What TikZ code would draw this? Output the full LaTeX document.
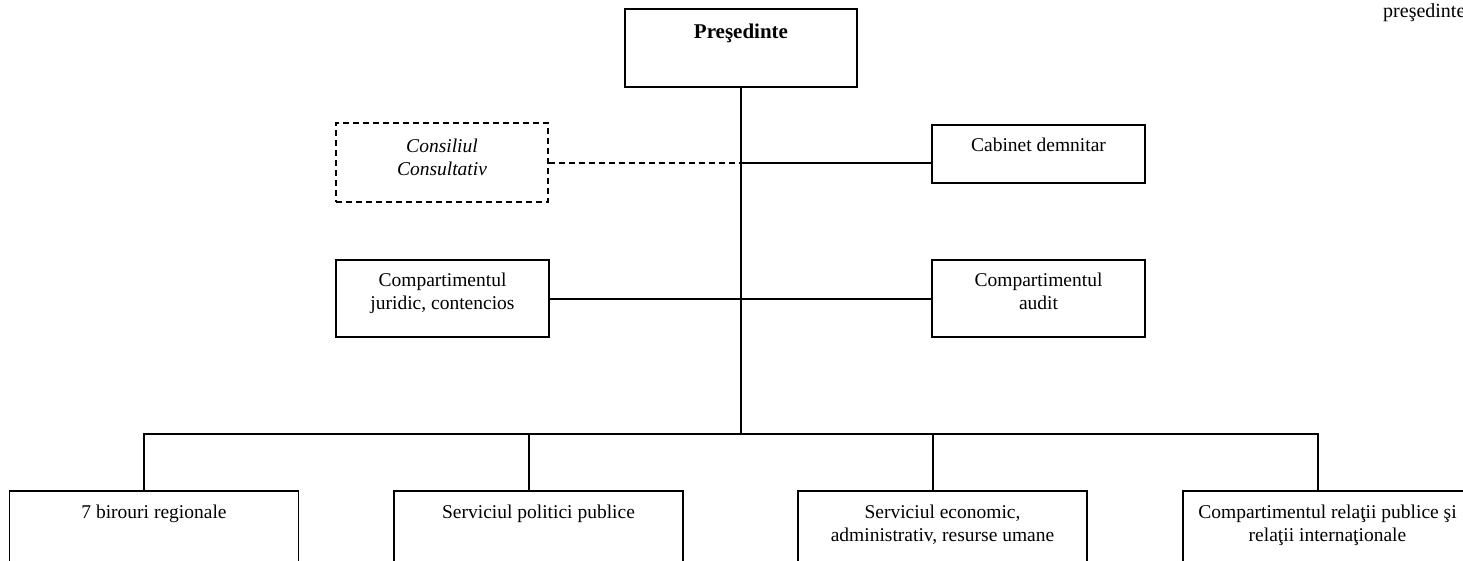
\documentclass[tikz,border=0pt]{standalone}
\usepackage{fontspec}
\setmainfont{Liberation Serif}
\usetikzlibrary{positioning}

\tikzset{
  unit/.style={draw, line width=1.8pt, minimum width=213pt, minimum height=77pt, inner sep=0pt},
  lbl/.style={inner sep=0pt, align=center, font=\fontsize{19.5}{23}\selectfont},
  link/.style={line width=2pt}
}

\begin{document}
\begin{tikzpicture}[x=1pt, y=-1pt]
\clip (0,0) rectangle (1463,560);
% Draw president box
\node[unit, minimum width=232pt, minimum height=78pt] (pres) at (741,48) {};
\node[lbl, below=16pt of pres.north, font=\fontsize{21}{25}\selectfont\bfseries] (pres-t) {Preşedinte};
% Draw note at top right (cut by the page edge)
\node[lbl, anchor=base west, font=\fontsize{20}{24}\selectfont] (note) at (1383,17) {preşedinte};
% Draw advisory council (dashed)
\node[unit, dash pattern=on 6pt off 4pt, minimum width=212pt, minimum height=79pt] (cons) at (442,162.5) {};
\node[lbl, below=17pt of cons.north, font=\fontsize{19.5}{23}\selectfont\itshape] (cons-t) {Consiliul\\Consultativ};
% Draw cabinet box
\node[unit, minimum height=58pt] (cab) at (1038.5,154) {};
\node[lbl, below=14pt of cab.north] (cab-t) {Cabinet demnitar};
% Draw legal and audit boxes
\node[unit] (jur) at (442.5,298.5) {};
\node[lbl, below=14pt of jur.north] (jur-t) {Compartimentul\\juridic, contencios};
\node[unit] (aud) at (1038.5,298.5) {};
\node[lbl, below=14pt of aud.north] (aud-t) {Compartimentul\\audit};
% Draw bottom row
\node[unit, minimum width=289pt, minimum height=110pt] (bir) at (154,546) {};
\node[lbl, below=15pt of bir.north] (bir-t) {7 birouri regionale};
\node[unit, minimum width=289pt, minimum height=110pt] (pol) at (538.5,546) {};
\node[lbl, below=15pt of pol.north] (pol-t) {Serviciul politici publice};
\node[unit, minimum width=289pt, minimum height=110pt] (eco) at (942.5,546) {};
\node[lbl, below=15pt of eco.north] (eco-t) {Serviciul economic,\\administrativ, resurse umane};
\node[unit, minimum width=289pt, minimum height=110pt] (rel) at (1327.5,546) {};
\node[lbl, below=15pt of rel.north] (rel-t) {Compartimentul relaţii publice şi\\relaţii internaţionale};
% Main trunk down to the bus
\coordinate (bus) at (741,434);
\draw[link] (pres.south) -- (bus);
% Advisory line (dashed) and cabinet line
\coordinate (cons-in) at (cons.east -| pres.south);
\draw[link, dash pattern=on 6pt off 4pt] (cons.east) -- (cons-in);
\draw[link] (cons-in) -- (cons-in -| cab.west);
% Legal to audit line
\draw[link] (jur.east) -- (aud.west);
% Drops to bottom row
\coordinate (bir-in) at ([xshift=-10pt]bir.north);
\coordinate (pol-in) at ([xshift=-10pt]pol.north);
\coordinate (eco-in) at ([xshift=-10pt]eco.north);
\coordinate (rel-in) at ([xshift=-10pt]rel.north);
\draw[link] (bir-in) -- (bir-in |- bus) -- (rel-in |- bus) -- (rel-in);
\draw[link] (pol-in) -- (pol-in |- bus);
\draw[link] (eco-in) -- (eco-in |- bus);
\end{tikzpicture}
\end{document}
